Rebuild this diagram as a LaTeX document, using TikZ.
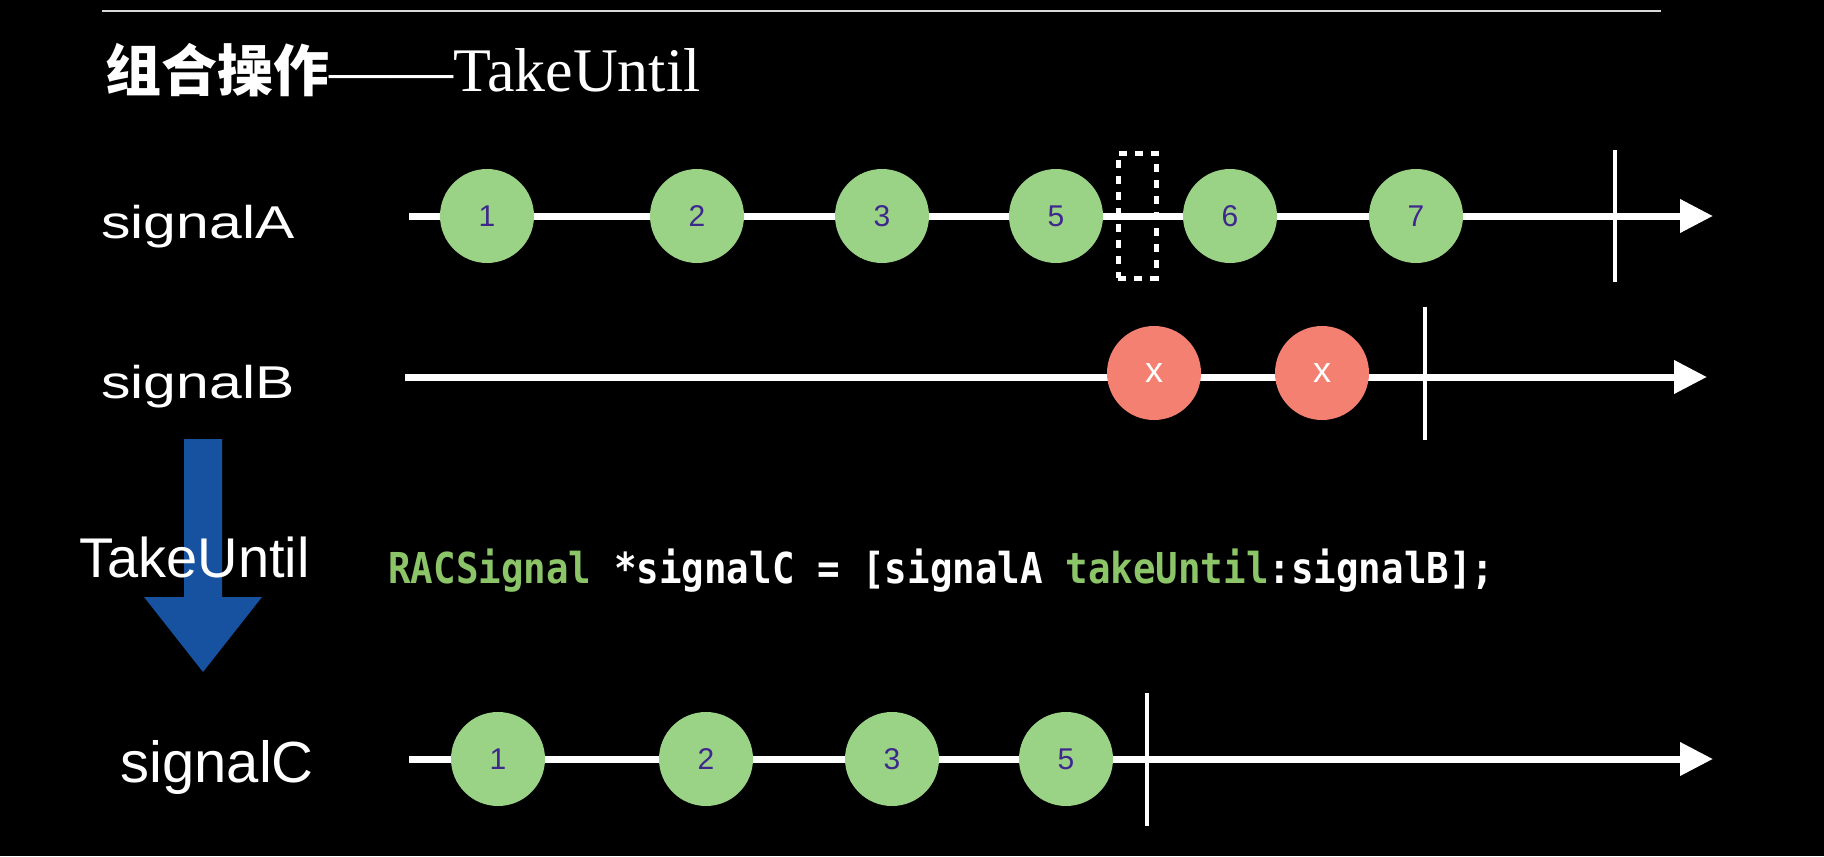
\documentclass[tikz,border=0pt]{standalone}
\usepackage{fontspec}
\usetikzlibrary{arrows.meta}
\newfontfamily\sigfont[FakeStretch=1.28]{Liberation Sans}
\newfontfamily\labfont{Liberation Sans}
\newfontfamily\serfont{Liberation Serif}
\newfontfamily\cjk{Noto Sans CJK SC}
\newfontfamily\codefont[FakeStretch=0.88]{DejaVu Sans Mono}
\definecolor{ballgreen}{RGB}{155,211,134}
\definecolor{ballred}{RGB}{244,128,114}
\definecolor{numblue}{RGB}{62,40,140}
\definecolor{codegreen}{RGB}{140,196,104}
\definecolor{opblue}{RGB}{22,82,160}
\tikzset{every node/.append style={text=white,inner sep=0pt}}
\tikzset{ball/.style={circle,minimum size=47pt,fill=ballgreen,text=numblue,
  font=\labfont\fontsize{15pt}{17pt}\selectfont}}
\tikzset{errball/.style={ball,fill=ballred,text=white,
  font=\labfont\fontsize{18pt}{20pt}\selectfont}}
\tikzset{timeline/.style={white,line width=3.5pt,-{Triangle[length=16.5pt,width=16pt]}}}
\tikzset{endbar/.style={white,line width=2.2pt}}
\tikzset{siglabel/.style={anchor=base west,font=\sigfont\fontsize{23pt}{28pt}\selectfont}}

\begin{document}
\begin{tikzpicture}[x=0.5pt,y=-0.5pt]
  \useasboundingbox (0,0) rectangle (1824,856);
  \fill[black] (0,0) rectangle (1824,856);
  % heading
  \coordinate (rule w) at (102,11);
  \coordinate (rule e) at (1661,11);
  \draw[white!85!black,line width=1.2pt] (rule w) -- (rule e);
  \node[anchor=base west] (title) at (105,92)
    {\cjk\bfseries\fontsize{28pt}{32pt}\selectfont 组合操作\serfont\mdseries\fontsize{31pt}{34pt}\selectfont
     ——TakeUntil};
  % signalA
  \node[siglabel] (la) at (101,238) {signalA};
  \coordinate (a0) at (409,216);
  \coordinate (a end) at (1713,216);
  \draw[timeline] (a0) -- (a end);
  \node[ball] (a1) at (487,216) {1};
  \node[ball] (a2) at (697,216) {2};
  \node[ball] (a3) at (882,216) {3};
  \node[ball] (a5) at (1056,216) {5};
  \node[ball] (a6) at (1230,216) {6};
  \node[ball] (a7) at (1416,216) {7};
  \node[draw=white,line width=2.5pt,dash pattern=on 4pt off 4pt,
        minimum width=19pt,minimum height=62.5pt] (cut) at (1137,215.5) {};
  \coordinate (ta) at (1615,150);
  \coordinate (tb) at (1615,282);
  \draw[endbar] (ta) -- (tb);
  % signalB
  \node[siglabel] (lb) at (101,398) {signalB};
  \coordinate (b0) at (405,377);
  \coordinate (b end) at (1707,377);
  \draw[timeline] (b0) -- (b end);
  \node[errball] (b1) at (1154,373) {x};
  \node[errball] (b2) at (1322,373) {x};
  \coordinate (tc) at (1425,307);
  \coordinate (td) at (1425,440);
  \draw[endbar] (tc) -- (td);
  % operator
  \fill[opblue] (184,439) -- (222,439) -- (222,597) -- (262,597) -- (203,672)
    -- (144,597) -- (184,597) -- cycle;
  \node[anchor=base west,font=\labfont\fontsize{28pt}{32pt}\selectfont] (op) at (79,577) {TakeUntil};
  \node[anchor=base west,font=\codefont\bfseries\fontsize{21.3pt}{24pt}\selectfont] (code) at (388,583)
    {\textcolor{codegreen}{RACSignal} *signalC = [signalA \textcolor{codegreen}{takeUntil}:signalB];};
  % signalC
  \node[anchor=base west,font=\labfont\fontsize{29pt}{34pt}\selectfont] (lc) at (120,782) {signalC};
  \coordinate (c0) at (409,759);
  \coordinate (c end) at (1713,759);
  \draw[timeline] (c0) -- (c end);
  \node[ball] (c1) at (498,759) {1};
  \node[ball] (c2) at (706,759) {2};
  \node[ball] (c3) at (892,759) {3};
  \node[ball] (c5) at (1066,759) {5};
  \coordinate (te) at (1147,693);
  \coordinate (tf) at (1147,826);
  \draw[endbar] (te) -- (tf);
\end{tikzpicture}
\end{document}
